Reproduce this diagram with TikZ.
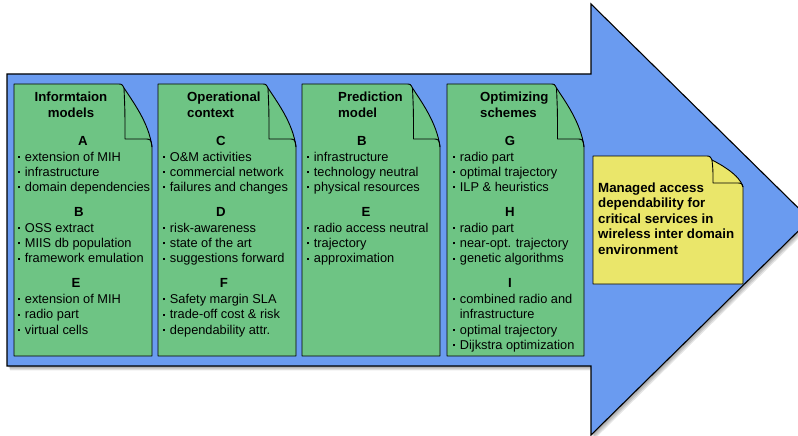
\documentclass[tikz,border=0pt]{standalone}
\usepackage{fontspec}
\setmainfont{Liberation Sans}
\begin{document}
\definecolor{arrowblue}{RGB}{106,155,240}
\definecolor{boxgreen}{RGB}{110,196,132}
\definecolor{noteyellow}{RGB}{234,230,106}
% bullet mark: small square followed by the gap before the text
\newcommand\bul{\makebox[6.7pt][l]{\raisebox{3.3pt}{\rule{2pt}{2pt}}}}
% #1 name, #2 x of bullet, #3 baseline, #4 text
\newcommand\itm[4]{\node[itm] (#1) at (#2,#3) {\bul #4};}
% continuation line without bullet
\newcommand\cnt[4]{\node[itm] (#1) at ({#2+6.7},#3) {#4};}
% page with a folded top-right corner:
% #1 fill, #2 x1, #3 y1, #4 x2, #5 y2, #6 fold width, #7 fold height, #8 join drop
\newcommand\foldbox[8]{%
  \path[boxline, fill=#1] (#2,#3) -- ({#4-#6-7},#3)
    .. controls ({#4-#6-2},#3) .. ({#4-#6},{#3+4})
    .. controls ({#4-#6+8},{#3+0.3*#7}) and ({#4-3},{#3+0.7*#7}) .. (#4,{#3+#7+#8})
    -- (#4,#5) -- (#2,#5) -- cycle;
  \draw[boxline] ({#4-#6},{#3+4})
    .. controls ({#4-#6+1},{#3+0.5*#7}) .. ({#4-#6+1},{#3+#7})
    -- ({#4-8},{#3+#7}) .. controls ({#4-1},{#3+#7}) .. (#4,{#3+#7+#8});
}
\newcommand\arrowpath{(7,74) -- (591,74) -- (591,4) -- (810,219.5) -- (591,435) -- (591,366) -- (7,366) -- cycle}
\begin{tikzpicture}[x=1pt,y=-1pt,
  boxline/.style={draw=black, line width=0.9pt, line join=round},
  itm/.style={font=\fontsize{12.8}{15}\selectfont, inner sep=0pt, anchor=base west},
  ttl/.style={font=\fontsize{13.2}{15}\selectfont\bfseries, inner sep=0pt, anchor=base west},
  ttlc/.style={ttl, anchor=base},
  ltr/.style={font=\fontsize{13.2}{15}\selectfont\bfseries, inner sep=0pt, anchor=base},
  note/.style={font=\fontsize{13.3}{15}\selectfont\bfseries, inner sep=0pt, anchor=base west}]
\useasboundingbox (0,0) rectangle (798,436);
\begin{scope}
\clip (0,0) rectangle (798,436);
% soft drop shadow of the big arrow
\foreach \s in {1,2,3,4}{
  \fill[black, opacity=0.1, shift={(\s*0.8,\s*1.1)}] \arrowpath;
}
\path[fill=arrowblue, draw=black, line width=1.1pt, line join=miter] \arrowpath;
\end{scope}
% the four green pages and the yellow note
\foldbox{boxgreen}{14}{84}{152}{356}{28}{55}{8}
\foldbox{boxgreen}{158}{84}{296}{356}{28}{55}{8}
\foldbox{boxgreen}{302}{84}{440}{356}{27.5}{55}{8}
\foldbox{boxgreen}{447}{84}{584}{356}{27.5}{55}{8}
\foldbox{noteyellow}{593}{156}{743}{284}{31}{27}{4}

% column 1
\node[ttlc] (t1a) at (71,101.5) {Informtaion};
\node[ttlc] (t1b) at (71,117.5) {models};
\node[ltr] (lA) at (83,145.3) {A};
\itm{a1}{18}{161}{extension of MIH}
\itm{a2}{18}{176.3}{infrastructure}
\itm{a3}{18}{191.6}{domain dependencies}
\node[ltr] (lB1) at (79,216.6) {B};
\itm{b1}{18}{232.3}{OSS extract}
\itm{b2}{18}{247.6}{MIIS db population}
\itm{b3}{18}{262.9}{framework emulation}
\node[ltr] (lE1) at (76,287.9) {E};
\itm{e1}{18}{303.6}{extension of MIH}
\itm{e2}{18}{318.9}{radio part}
\itm{e3}{18}{334.2}{virtual cells}

% column 2
\node[ttl] (t2a) at (187,101.5) {Operational};
\node[ttl] (t2b) at (187,117.5) {context};
\node[ltr] (lC) at (221,145.3) {C};
\itm{c1}{163}{161}{O\&M activities}
\itm{c2}{163}{176.3}{commercial network}
\itm{c3}{163}{191.6}{failures and changes}
\node[ltr] (lD) at (221,216.6) {D};
\itm{d1}{163}{232.3}{risk-awareness}
\itm{d2}{163}{247.6}{state of the art}
\itm{d3}{163}{262.9}{suggestions forward}
\node[ltr] (lF) at (224,287.9) {F};
\itm{f1}{163}{303.6}{Safety margin SLA}
\itm{f2}{163}{318.9}{trade-off cost \& risk}
\itm{f3}{163}{334.2}{dependability attr.}

% column 3
\node[ttl] (t3a) at (338,101.5) {Prediction};
\node[ttl] (t3b) at (338,117.5) {model};
\node[ltr] (lB3) at (362,145.3) {B};
\itm{p1}{307}{161}{infrastructure}
\itm{p2}{307}{176.3}{technology neutral}
\itm{p3}{307}{191.6}{physical resources}
\node[ltr] (lE3) at (366,216.6) {E};
\itm{q1}{307}{232.3}{radio access neutral}
\itm{q2}{307}{247.6}{trajectory}
\itm{q3}{307}{262.9}{approximation}

% column 4
\node[ttl] (t4a) at (480,101.5) {Optimizing};
\node[ttl] (t4b) at (480,117.5) {schemes};
\node[ltr] (lG) at (510,145.3) {G};
\itm{g1}{453}{161}{radio part}
\itm{g2}{453}{176.3}{optimal trajectory}
\itm{g3}{453}{191.6}{ILP \& heuristics}
\node[ltr] (lH) at (510,216.6) {H};
\itm{h1}{453}{232.3}{radio part}
\itm{h2}{453}{247.6}{near-opt. trajectory}
\itm{h3}{453}{262.9}{genetic algorithms}
\node[ltr] (lI) at (510,287.9) {I};
\itm{i1}{453}{303.6}{combined radio and}
\cnt{i1b}{453}{318.9}{infrastructure}
\itm{i2}{453}{334.2}{optimal trajectory}
\itm{i3}{453}{349.5}{Dijkstra optimization}

% goal note
\node[note] (n1) at (598,192.5) {Managed access};
\node[note] (n2) at (598,207.9) {dependability for};
\node[note] (n3) at (598,223.3) {critical services in};
\node[note] (n4) at (598,238.7) {wireless inter domain};
\node[note] (n5) at (598,254.1) {environment};
\end{tikzpicture}
\end{document}
